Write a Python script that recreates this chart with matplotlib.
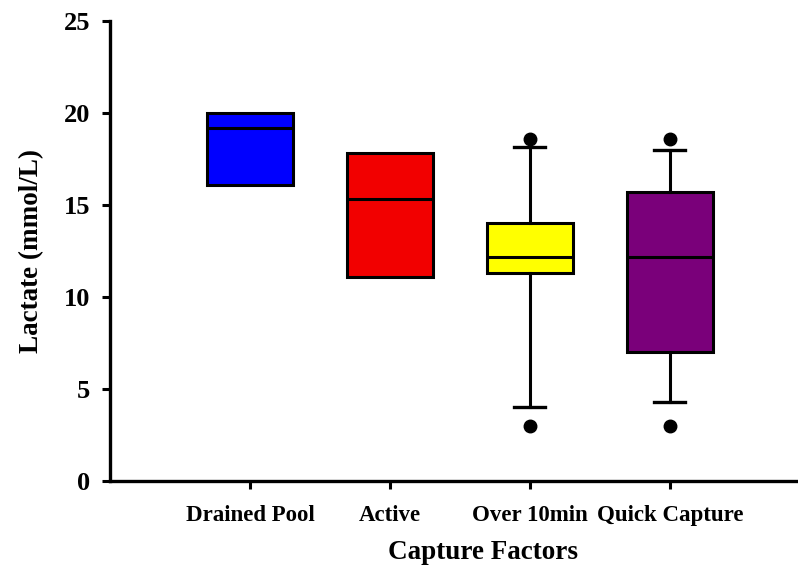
import matplotlib
matplotlib.use("Agg")
import matplotlib.pyplot as plt

# box statistics
labels = ["Drained Pool", "Active", "Over 10min", "Quick Capture"]
q1 = [16.1, 11.1, 11.3, 7.0]
med = [19.2, 15.35, 12.2, 12.2]
q3 = [20.0, 17.8, 14.0, 15.7]
whislo = [16.1, 11.1, 4.0, 4.3]
whishi = [20.0, 17.8, 18.15, 18.0]
fliers = [[], [], [3.0, 18.6], [3.0, 18.6]]
colors = ["#0000ff", "#f20000", "#ffff00", "#7a007a"]

plt.rcParams["font.family"] = ["Liberation Serif", "DejaVu Serif"]
plt.rcParams["font.weight"] = "bold"

fig = plt.figure(figsize=(7.98, 5.72), dpi=100)
ax = fig.add_axes([110 / 798, 1 - 481 / 572, 690 / 798, 460 / 572])

stats = []
for i in range(len(labels)):
    stats.append(dict(label=labels[i], q1=q1[i], med=med[i], q3=q3[i],
                      whislo=whislo[i], whishi=whishi[i], fliers=fliers[i]))

has_whisk = [w < a or h > b for w, a, h, b in zip(whislo, q1, whishi, q3)]

bp = ax.bxp(stats, positions=range(1, 5), widths=0.61, patch_artist=True,
            showcaps=True, capwidths=0.22,
            boxprops=dict(linewidth=2.2, edgecolor="black"),
            medianprops=dict(color="black", linewidth=2.2),
            whiskerprops=dict(color="black", linewidth=2.2),
            capprops=dict(color="black", linewidth=2.4),
            flierprops=dict(marker="o", markerfacecolor="black",
                            markeredgecolor="black", markersize=9))
for patch, c in zip(bp["boxes"], colors):
    patch.set_facecolor(c)
for i, ok in enumerate(has_whisk):
    if not ok:
        for art in bp["whiskers"][2 * i:2 * i + 2] + bp["caps"][2 * i:2 * i + 2]:
            art.set_visible(False)

ax.set_xlim(0, 4.93)
ax.set_ylim(0, 25)
ax.set_yticks([0, 5, 10, 15, 20, 25])
ax.set_xticks(range(1, 5))
ax.set_xticklabels(labels)

for s in ["top", "right"]:
    ax.spines[s].set_visible(False)
for s in ["left", "bottom"]:
    ax.spines[s].set_linewidth(2.4)
ax.tick_params(axis="both", direction="out", length=6, width=2.2)
ax.tick_params(axis="x", labelsize=16.5, pad=11)
ax.tick_params(axis="y", labelsize=19, pad=8)
for t in ax.get_xticklabels() + ax.get_yticklabels():
    t.set_fontweight("bold")

ax.set_xlabel("Capture Factors", fontsize=19.5, fontweight="bold")
ax.xaxis.set_label_coords(0.54, -0.128)
ax.set_ylabel("Lactate (mmol/L)", fontsize=19.5, fontweight="bold", labelpad=14)

fig.savefig("out.png", dpi=100)
